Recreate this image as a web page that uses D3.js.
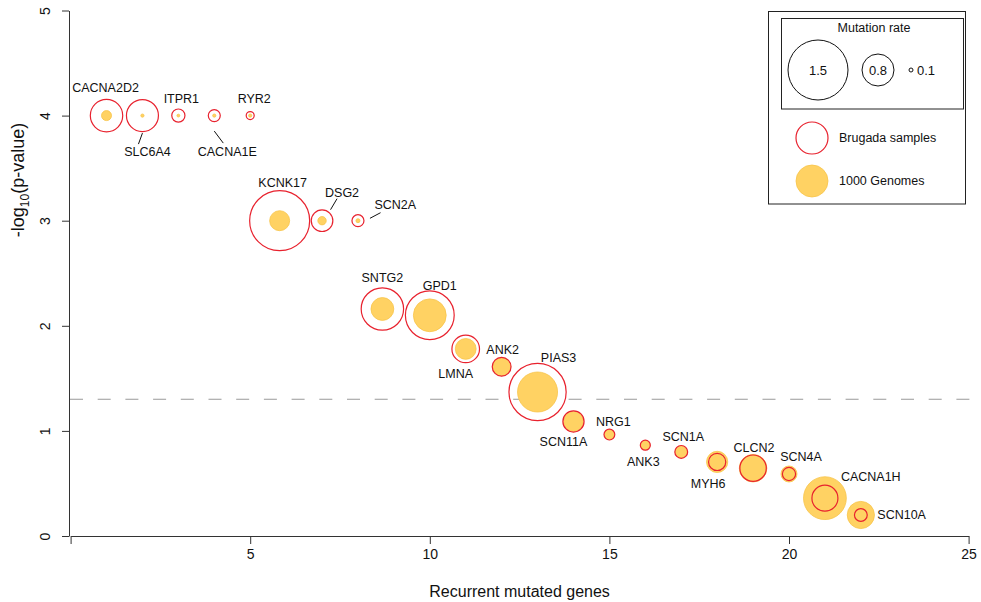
<!DOCTYPE html>
<html>
<head>
<meta charset="utf-8">
<script src="https://cdn.jsdelivr.net/npm/d3@7"></script>
<style>
  html, body { margin: 0; padding: 0; background: #fff; }
  svg { display: block; font-family: "Liberation Sans", Arial, Helvetica, sans-serif; }
</style>
</head>
<body>
<svg id="chart" width="981" height="602"></svg>
<script>
// Recurrently mutated genes: rank position, significance and mutation rates
const genes = ["CACNA2D2", "SLC6A4", "ITPR1", "CACNA1E", "RYR2", "KCNK17", "DSG2", "SCN2A",
  "SNTG2", "GPD1", "LMNA", "ANK2", "PIAS3", "SCN11A", "NRG1", "ANK3", "SCN1A", "MYH6",
  "CLCN2", "SCN4A", "CACNA1H", "SCN10A"];
const rankPos = [1, 2, 3, 4, 5, 5.82, 7, 8, 8.68, 10, 11, 12, 13, 14, 15, 16, 17, 18, 19, 20, 21, 22];
const negLogP = [4, 4, 4, 4, 4, 3, 3, 3, 2.16, 2.10, 1.78, 1.61, 1.37, 1.09, 0.965, 0.864, 0.80,
  0.705, 0.645, 0.59, 0.36, 0.20];
const rateBrugada = [0.81, 0.80, 0.33, 0.30, 0.20, 1.50, 0.54, 0.30, 1.06, 1.22, 0.69, 0.47, 1.43,
  0.53, 0.27, 0.25, 0.32, 0.43, 0.66, 0.33, 0.65, 0.32];
const rate1000G = [0.25, 0.08, 0.07, 0.08, 0.08, 0.50, 0.21, 0.10, 0.57, 0.82, 0.52, 0.45, 1.00,
  0.50, 0.25, 0.23, 0.30, 0.53, 0.69, 0.40, 1.07, 0.68];
const xTicks = [5, 10, 15, 20, 25];
const yTicks = [0, 1, 2, 3, 4, 5];
const sizeLegend = [1.5, 0.8, 0.1];
const pThreshold = 0.05;

// Label placement relative to each point (pixels): label offset, anchor, optional leader line
const labelLayout = {
  CACNA2D2: { dx: -1, dy: -28 },
  SLC6A4: { dx: 5, dy: 36, lead: [0, 17.5, -4, 28.5] },
  ITPR1: { dx: 3, dy: -17 },
  CACNA1E: { dx: 13, dy: 36, lead: [0, 15.5, 9, 27.5] },
  RYR2: { dx: 4, dy: -17 },
  KCNK17: { dx: 3, dy: -38 },
  DSG2: { dx: 20, dy: -28, lead: [15, -22, 8.5, -11] },
  SCN2A: { dx: 16.5, dy: -16, anchor: "start", lead: [12, -2.4, 22.6, -8] },
  SNTG2: { dx: 0, dy: -31 },
  GPD1: { dx: 10, dy: -30 },
  LMNA: { dx: -10, dy: 25 },
  ANK2: { dx: 1, dy: -17 },
  PIAS3: { dx: 21, dy: -34 },
  SCN11A: { dx: -10, dy: 20 },
  NRG1: { dx: 4, dy: -13 },
  ANK3: { dx: -2, dy: 16 },
  SCN1A: { dx: 2, dy: -15 },
  MYH6: { dx: -9, dy: 22 },
  CLCN2: { dx: 1, dy: -21 },
  SCN4A: { dx: 12, dy: -17 },
  CACNA1H: { dx: 16, dy: -22, anchor: "start" },
  SCN10A: { dx: 16.5, dy: 0, anchor: "start" }
};

const RED = "#E8222E";
const GOLD = "#FFD263";
const GOLD_EDGE = "#F7C44A";

const svg = d3.select("#chart");
const x = d3.scaleLinear().domain([0, 25]).range([70.6, 968.6]);
const y = d3.scaleLinear().domain([0, 5]).range([536, 10.5]);
// circle radius grows linearly with mutation rate
const r = d3.scaleLinear().domain([0, 1]).range([0, 20]);

// x axis
const gx = svg.append("g").attr("transform", `translate(0,${y(0)})`)
  .call(d3.axisBottom(x).tickValues([0, ...xTicks]).tickSize(8).tickSizeOuter(0)
    .tickFormat(d => d === 0 ? "" : d));
gx.select(".domain").attr("stroke", "#333");
gx.selectAll(".tick line").attr("stroke", "#333");
gx.selectAll(".tick text").attr("y", 13).attr("font-size", 14).attr("fill", "#111")
  .attr("font-family", "Liberation Sans, Arial, sans-serif");

// y axis with labels parallel to the axis
const gy = svg.append("g").attr("transform", `translate(69,0)`)
  .call(d3.axisLeft(y).tickValues(yTicks).tickSize(7).tickSizeOuter(0).tickFormat(d3.format("d")));
gy.select(".domain").attr("stroke", "#333");
gy.selectAll(".tick line").attr("stroke", "#333");
gy.selectAll(".tick text")
  .attr("x", null).attr("dy", null)
  .attr("transform", "translate(-19,0) rotate(-90)")
  .attr("text-anchor", "middle")
  .attr("font-size", 14).attr("fill", "#111")
  .attr("font-family", "Liberation Sans, Arial, sans-serif");

// axis titles
svg.append("text").attr("x", x(12.5)).attr("y", 597).attr("text-anchor", "middle")
  .attr("font-size", 16).attr("fill", "#111").text("Recurrent mutated genes");
const yt = svg.append("text").attr("transform", "translate(24,180) rotate(-90)")
  .attr("text-anchor", "middle").attr("font-size", 18).attr("fill", "#111");
yt.append("tspan").text("-log");
yt.append("tspan").attr("font-size", 12).attr("dy", 5).text("10");
yt.append("tspan").attr("dy", -5).text("(p-value)");

// significance threshold
svg.append("line")
  .attr("x1", 70).attr("x2", 975)
  .attr("y1", y(-Math.log10(pThreshold))).attr("y2", y(-Math.log10(pThreshold)))
  .attr("stroke", "#999").attr("stroke-width", 1).attr("stroke-dasharray", "13,14.7");

// gene points: 1000 Genomes filled circles beneath Brugada outlines
const rows = genes.map((g, i) => ({ gene: g, x: rankPos[i], y: negLogP[i], b: rateBrugada[i], k: rate1000G[i] }));
const pts = svg.append("g");
pts.selectAll("circle.kg").data(rows).join("circle").attr("class", "kg")
  .attr("cx", d => x(d.x)).attr("cy", d => y(d.y)).attr("r", d => r(d.k))
  .attr("fill", GOLD).attr("stroke", GOLD_EDGE).attr("stroke-width", 0.8);
pts.selectAll("circle.br").data(rows).join("circle").attr("class", "br")
  .attr("cx", d => x(d.x)).attr("cy", d => y(d.y)).attr("r", d => r(d.b))
  .attr("fill", "none").attr("stroke", RED).attr("stroke-width", 1.2);

// labels and leader lines
const lab = svg.append("g");
rows.forEach(d => {
  const L = labelLayout[d.gene];
  const px = x(d.x), py = y(d.y);
  if (L.lead) {
    lab.append("line")
      .attr("x1", px + L.lead[0]).attr("y1", py + L.lead[1])
      .attr("x2", px + L.lead[2]).attr("y2", py + L.lead[3])
      .attr("stroke", "#111").attr("stroke-width", 1);
  }
  lab.append("text").attr("x", px + L.dx).attr("y", py + L.dy)
    .attr("dy", "0.35em").attr("text-anchor", L.anchor || "middle")
    .attr("font-size", 12.5).attr("fill", "#111").text(d.gene);
});

// legend
const lg = svg.append("g");
lg.append("rect").attr("x", 768.5).attr("y", 11.5).attr("width", 197).attr("height", 192.5)
  .attr("fill", "none").attr("stroke", "#222").attr("stroke-width", 1);
lg.append("rect").attr("x", 781.5).attr("y", 18.5).attr("width", 182).attr("height", 90.5)
  .attr("fill", "none").attr("stroke", "#222").attr("stroke-width", 1);
lg.append("text").attr("x", 874).attr("y", 28).attr("dy", "0.35em").attr("text-anchor", "middle")
  .attr("font-size", 12.5).attr("fill", "#111").text("Mutation rate");
const sizeX = [818, 878, 911];
sizeLegend.forEach((v, i) => {
  lg.append("circle").attr("cx", sizeX[i]).attr("cy", 70).attr("r", r(v))
    .attr("fill", "none").attr("stroke", "#111").attr("stroke-width", 1);
  const small = r(v) < 8;
  lg.append("text").attr("x", small ? sizeX[i] + 6 : sizeX[i]).attr("y", 70).attr("dy", "0.35em")
    .attr("text-anchor", small ? "start" : "middle").attr("font-size", 13).attr("fill", "#111")
    .text(v);
});
lg.append("circle").attr("cx", 812).attr("cy", 138).attr("r", 16)
  .attr("fill", "none").attr("stroke", RED).attr("stroke-width", 1.2);
lg.append("text").attr("x", 839).attr("y", 138).attr("dy", "0.35em")
  .attr("font-size", 12.5).attr("fill", "#111").text("Brugada samples");
lg.append("circle").attr("cx", 812).attr("cy", 181).attr("r", 16)
  .attr("fill", GOLD).attr("stroke", GOLD_EDGE).attr("stroke-width", 0.8);
lg.append("text").attr("x", 839).attr("y", 181).attr("dy", "0.35em")
  .attr("font-size", 12.5).attr("fill", "#111").text("1000 Genomes");
</script>
</body>
</html>
